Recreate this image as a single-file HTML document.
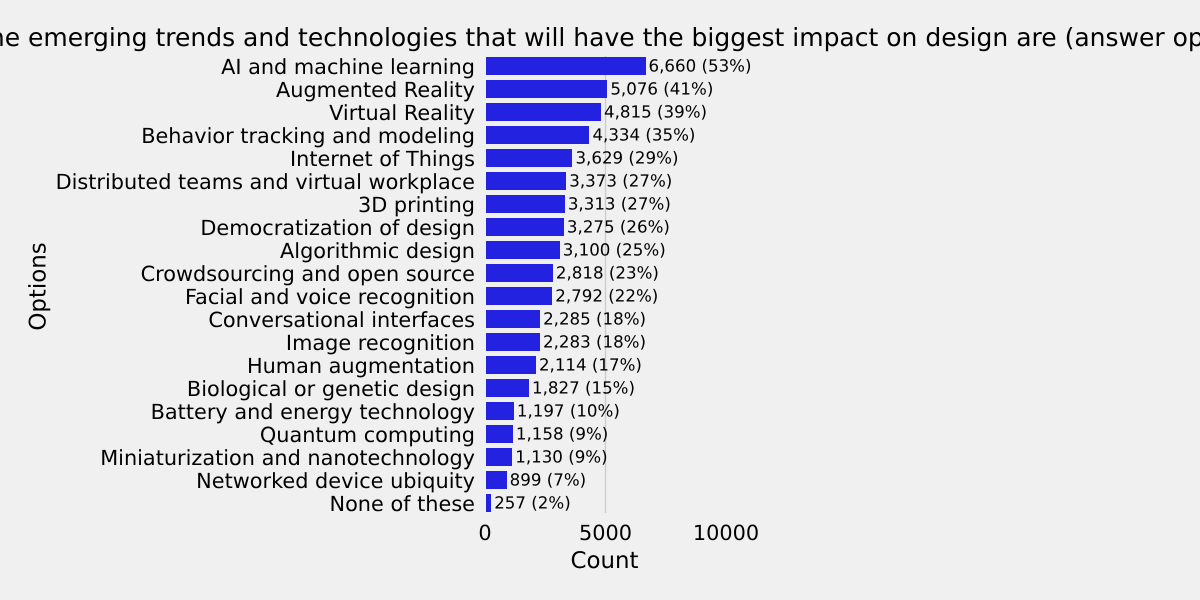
<!DOCTYPE html>
<html>
<head>
<meta charset="utf-8">
<style>
html,body{margin:0;padding:0;background:#f0f0f0;}
svg{display:block;font-family:"DejaVu Sans","Liberation Sans",sans-serif;text-rendering:geometricPrecision;}
</style>
</head>
<body>
<svg id="chart" width="1200" height="600" viewBox="0 0 1200 600" xmlns="http://www.w3.org/2000/svg">
<rect width="1200" height="600" fill="#f0f0f0"/>
<g id="grid"></g>
<g id="bars"></g>
<g id="values"></g>
<g id="ylabels"></g>
<g id="xlabels"></g>
<text x="624" y="46" text-anchor="middle" font-size="25px" fill="#000">The emerging trends and technologies that will have the biggest impact on design are (answer options)</text>
<text x="604.5" y="568" text-anchor="middle" font-size="22.9px" fill="#000">Count</text>
<text transform="translate(45.5,286.5) rotate(-90)" text-anchor="middle" font-size="22.9px" fill="#000">Options</text>
</svg>
<script>
const categories = ["AI and machine learning","Augmented Reality","Virtual Reality","Behavior tracking and modeling","Internet of Things","Distributed teams and virtual workplace","3D printing","Democratization of design","Algorithmic design","Crowdsourcing and open source","Facial and voice recognition","Conversational interfaces","Image recognition","Human augmentation","Biological or genetic design","Battery and energy technology","Quantum computing","Miniaturization and nanotechnology","Networked device ubiquity","None of these"];
const counts = [6660,5076,4815,4334,3629,3373,3313,3275,3100,2818,2792,2285,2283,2114,1827,1197,1158,1130,899,257];
const percents = [53,41,39,35,29,27,27,26,25,23,22,18,18,17,15,10,9,9,7,2];
const xTicks = [0,5000,10000];
const xTickLabels = ["0","5000","10000"];
const gridTicks = [5000];

const NS = "http://www.w3.org/2000/svg";
const x = v => 485 + v * 0.0241;
const y = i => 66 + i * 23;
const barH = 18;
const barLeft = 486;

function make(tag, attrs, parent, txt) {
  const el = document.createElementNS(NS, tag);
  for (const k in attrs) el.setAttribute(k, attrs[k]);
  if (txt !== undefined) el.textContent = txt;
  parent.appendChild(el);
  return el;
}
const gGrid = document.getElementById("grid");
const gBars = document.getElementById("bars");
const gVals = document.getElementById("values");
const gY = document.getElementById("ylabels");
const gX = document.getElementById("xlabels");

gridTicks.forEach(t => {
  const el = make("line", {x1:x(t), x2:x(t), y1:56, y2:513, stroke:"#cbcbcb", "stroke-width":1.3}, gGrid);
  
  
});
categories.forEach((c, i) => {
  const bar = make("rect", {x:barLeft, y:y(i)-barH/2, width:Math.round(x(counts[i]))-barLeft, height:barH, fill:"#2222e0", "shape-rendering":"crispEdges"}, gBars);
  
  
  const val = make("text", {x:x(counts[i])+3, y:y(i)+5.5, "font-size":"16.67px", fill:"#000"}, gVals, counts[i].toLocaleString("en-US") + " (" + percents[i] + "%)");
  
  
  const lab = make("text", {x:475, y:y(i)+8, "text-anchor":"end", "font-size":"20.83px", fill:"#000"}, gY, c);
  
  
});
xTicks.forEach((t, i) => {
  const tick = make("text", {x:x(t), y:540, "text-anchor":"middle", "font-size":"20.83px", fill:"#000"}, gX, xTickLabels[i]);
  
  
});
</script>
</body>
</html>
